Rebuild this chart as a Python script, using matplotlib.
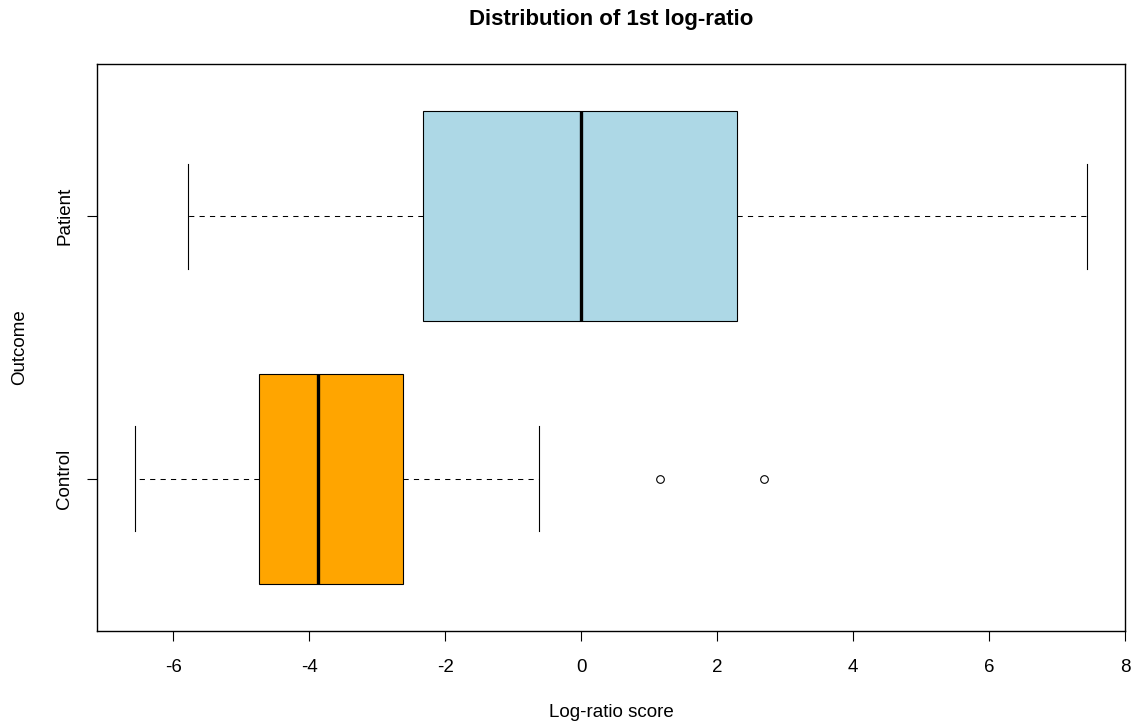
import matplotlib.pyplot as plt

plt.rcParams["font.family"] = ["Liberation Sans", "DejaVu Sans"]

groups = ["Control", "Patient"]
box_colors = ["#FFA500", "#ADD8E6"]
whisker_low = [-6.56, -5.78]
q1 = [-4.74, -2.32]
medians = [-3.87, 0.0]
q3 = [-2.62, 2.29]
whisker_high = [-0.62, 7.44]
outliers = [[1.16, 2.69], []]
x_ticks = [-6, -4, -2, 0, 2, 4, 6, 8]

stats = []
for i, name in enumerate(groups):
    stats.append({
        "label": name,
        "whislo": whisker_low[i],
        "q1": q1[i],
        "med": medians[i],
        "q3": q3[i],
        "whishi": whisker_high[i],
        "fliers": outliers[i],
    })

fig = plt.figure(figsize=(11.34, 7.24), dpi=100)
ax = fig.add_axes([0.0855, 0.1285, 0.9066, 0.7831])

bp = ax.bxp(
    stats,
    positions=[1, 2],
    vert=False,
    widths=0.8,
    patch_artist=True,
    showfliers=True,
    boxprops=dict(edgecolor="black", linewidth=0.8),
    medianprops=dict(color="black", linewidth=2.4, solid_capstyle="butt"),
    whiskerprops=dict(color="black", linewidth=0.75, linestyle=(0, (5, 5))),
    capprops=dict(color="black", linewidth=0.8),
    flierprops=dict(marker="o", markersize=5.5, markerfacecolor="none",
                    markeredgecolor="black", markeredgewidth=0.8),
    capwidths=0.4,
)
for patch, c in zip(bp["boxes"], box_colors):
    patch.set_facecolor(c)

ax.set_xlim(-7.12, 8.0)
ax.set_ylim(0.42, 2.58)
ax.set_xticks(x_ticks)
ax.set_xticklabels([str(t) for t in x_ticks])
ax.set_yticks([1, 2])
ax.set_yticklabels(groups, rotation=90, va="center")

for s in ax.spines.values():
    s.set_linewidth(1.0)
ax.tick_params(axis="both", length=7, width=0.8, labelsize=13.5, pad=13)
ax.tick_params(axis="y", pad=10)

ax.set_xlabel("Log-ratio score", fontsize=13.5, labelpad=20)
ax.set_ylabel("Outcome", fontsize=13.5, labelpad=20)
ax.set_title("Distribution of 1st log-ratio", fontsize=16, fontweight="bold", pad=28)

fig.savefig("out.png", dpi=100)
